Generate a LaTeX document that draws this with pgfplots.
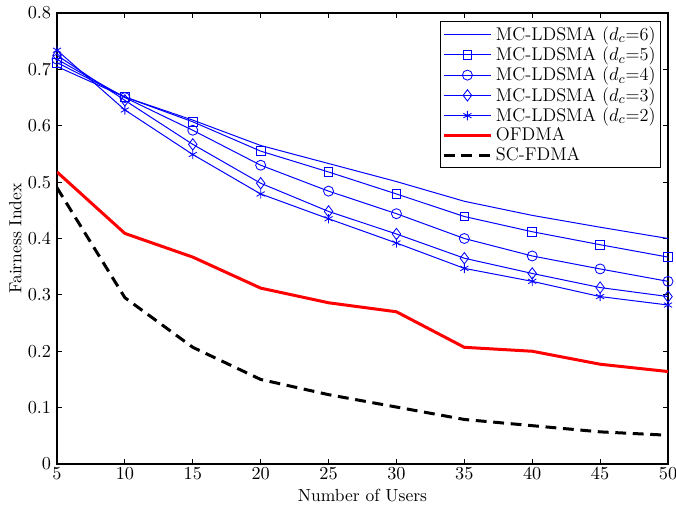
\documentclass[border=0pt]{standalone}
\usepackage{pgfplots}
\pgfplotsset{compat=1.18}
\begin{document}
\begin{tikzpicture}
\begin{axis}[
    scale only axis,
    width=366.6pt, height=270.6pt,
    xmin=5, xmax=50, ymin=0, ymax=0.8,
    xtick={5,10,...,50},
    ytick={0,0.1,...,0.8},
    yticklabel style={/pgf/number format/fixed, /pgf/number format/precision=1},
    tick align=inside,
    major tick length=3pt,
    tick style={black, line width=0.5pt},
    axis line style={line width=0.8pt},
    tick label style={font=\fontsize{10.5}{12}\selectfont},
    label style={font=\fontsize{10.5}{12}\selectfont},
    xticklabel style={yshift=1pt},
    xlabel={Number of Users},
    ylabel={Fairness Index},
    xlabel style={at={(axis description cs:0.5,0)}, anchor=center, yshift=-19.2pt},
    ylabel style={at={(axis description cs:0,0.5)}, anchor=center, yshift=25pt},
    legend cell align=left,
    legend style={at={(1,1)}, anchor=north east, xshift=-4.2pt, yshift=-4.8pt,
        font=\fontsize{11}{13}\selectfont, draw=black, line width=0.6pt,
        inner sep=1pt, row sep=-1.6pt},
    legend image code/.code={
        \draw[mark repeat=2,mark phase=2,#1] plot coordinates {(0cm,0cm) (0.5cm,0cm) (1cm,0cm)};
    },
]
\addplot[blue, line width=0.6pt] coordinates {(5,0.705)(10,0.651)(15,0.610)(20,0.565)(25,0.533)(30,0.501)(35,0.466)(40,0.441)(45,0.420)(50,0.400)};
\addlegendentry{MC-LDSMA ($d_c$=6)}
\addplot[blue, line width=0.6pt, mark=square, mark size=2.6pt, mark options={solid, line width=0.5pt}] coordinates {(5,0.712)(10,0.651)(15,0.607)(20,0.555)(25,0.518)(30,0.479)(35,0.439)(40,0.412)(45,0.389)(50,0.367)};
\addlegendentry{MC-LDSMA ($d_c$=5)}
\addplot[blue, line width=0.6pt, mark=o, mark size=3pt, mark options={solid, line width=0.5pt}] coordinates {(5,0.718)(10,0.650)(15,0.592)(20,0.530)(25,0.484)(30,0.444)(35,0.400)(40,0.369)(45,0.346)(50,0.324)};
\addlegendentry{MC-LDSMA ($d_c$=4)}
\addplot[blue, line width=0.6pt, mark=diamond, mark size=3.4pt, mark options={solid, line width=0.5pt}] coordinates {(5,0.725)(10,0.645)(15,0.567)(20,0.498)(25,0.448)(30,0.408)(35,0.365)(40,0.338)(45,0.313)(50,0.297)};
\addlegendentry{MC-LDSMA ($d_c$=3)}
\addplot[blue, line width=0.6pt, mark=asterisk, mark size=2.8pt, mark options={solid, line width=0.5pt}] coordinates {(5,0.734)(10,0.628)(15,0.549)(20,0.479)(25,0.435)(30,0.392)(35,0.347)(40,0.324)(45,0.297)(50,0.282)};
\addlegendentry{MC-LDSMA ($d_c$=2)}
\addplot[red, line width=1.8pt] coordinates {(5,0.518)(10,0.409)(15,0.367)(20,0.312)(25,0.286)(30,0.270)(35,0.207)(40,0.200)(45,0.177)(50,0.164)};
\addlegendentry{OFDMA}
\addplot[black, line width=1.8pt, dash pattern=on 6.5pt off 4pt] coordinates {(5,0.490)(10,0.295)(15,0.207)(20,0.150)(25,0.123)(30,0.101)(35,0.079)(40,0.068)(45,0.057)(50,0.051)};
\addlegendentry{SC-FDMA}
\end{axis}
\pgfresetboundingbox
\path ([shift={(-34.2pt,-25.8pt)}]current axis.south west) rectangle ([shift={(4.8pt,7.8pt)}]current axis.north east);
\end{tikzpicture}
\end{document}
